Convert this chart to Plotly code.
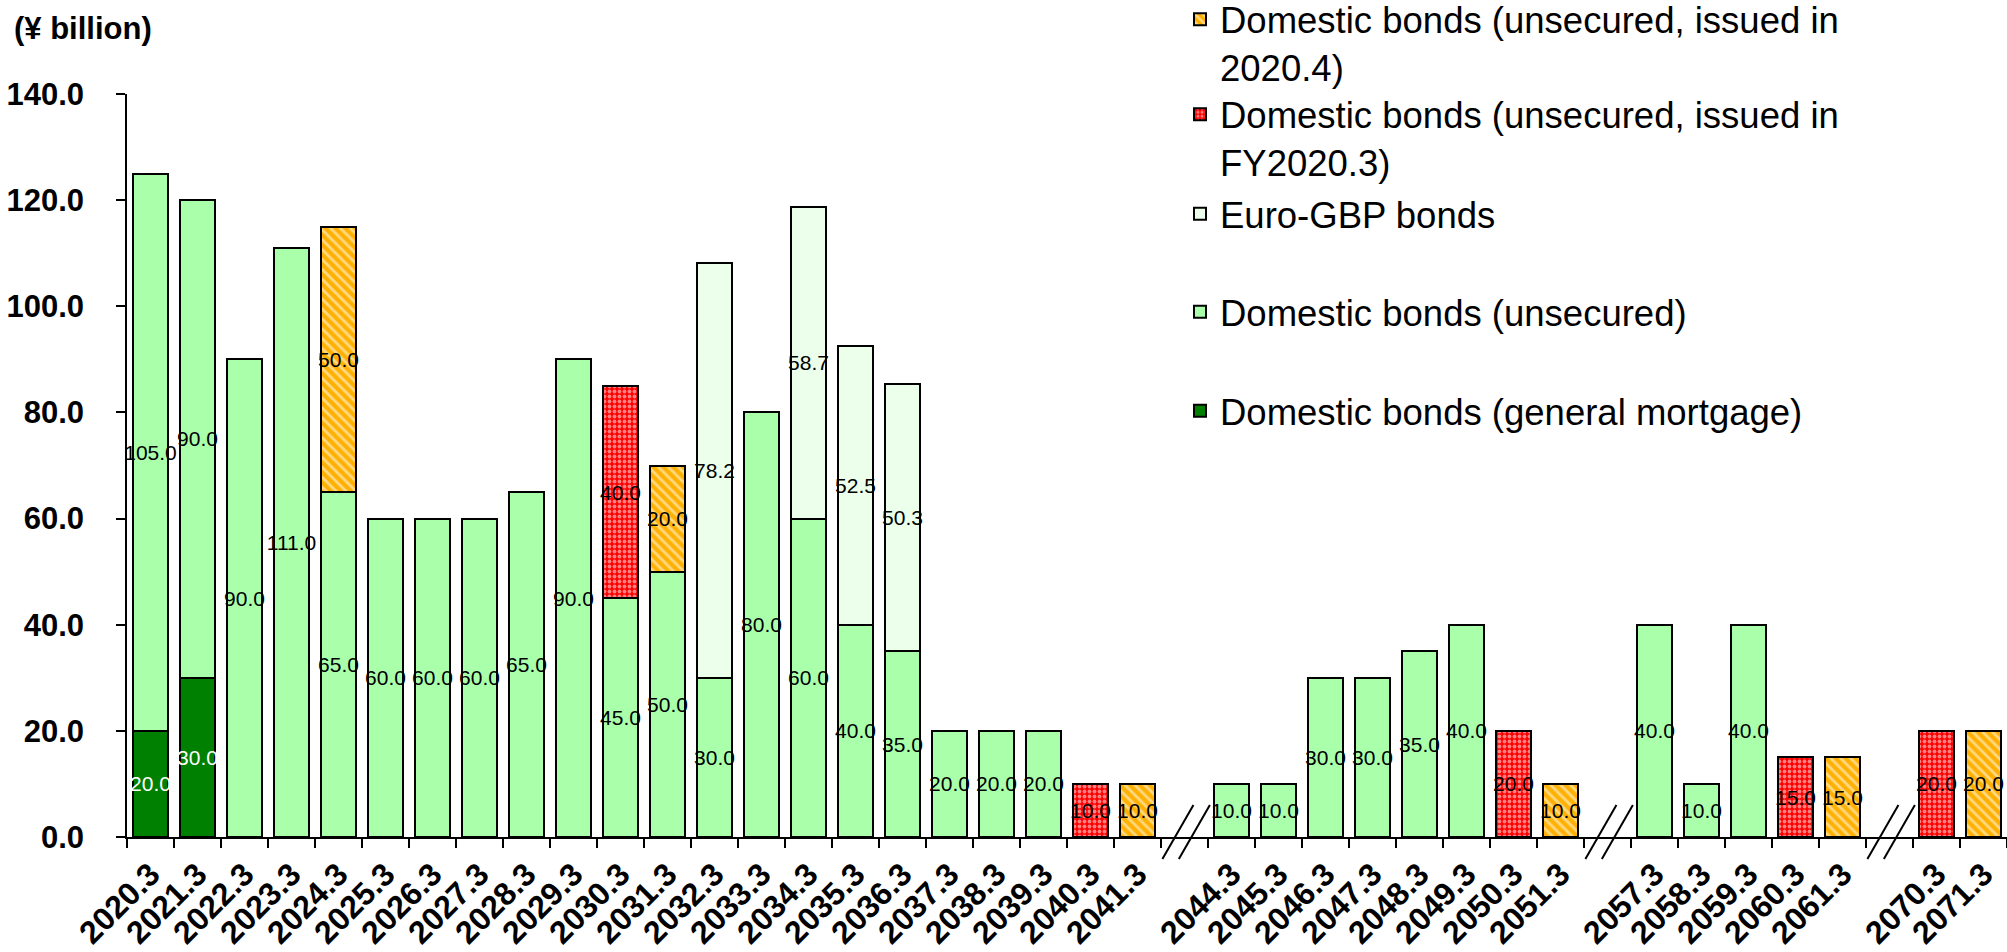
import plotly.graph_objects as go

# Redemption schedule by fiscal year (¥ billion); blank strings are axis breaks
categories = ["2020.3", "2021.3", "2022.3", "2023.3", "2024.3", "2025.3", "2026.3",
              "2027.3", "2028.3", "2029.3", "2030.3", "2031.3", "2032.3", "2033.3",
              "2034.3", "2035.3", "2036.3", "2037.3", "2038.3", "2039.3", "2040.3",
              "2041.3", " ", "2044.3", "2045.3", "2046.3", "2047.3", "2048.3",
              "2049.3", "2050.3", "2051.3", "  ", "2057.3", "2058.3", "2059.3",
              "2060.3", "2061.3", "   ", "2070.3", "2071.3"]

mortgage = {"2020.3": 20.0, "2021.3": 30.0}
unsecured = {"2020.3": 105.0, "2021.3": 90.0, "2022.3": 90.0, "2023.3": 111.0,
             "2024.3": 65.0, "2025.3": 60.0, "2026.3": 60.0, "2027.3": 60.0,
             "2028.3": 65.0, "2029.3": 90.0, "2030.3": 45.0, "2031.3": 50.0,
             "2032.3": 30.0, "2033.3": 80.0, "2034.3": 60.0, "2035.3": 40.0,
             "2036.3": 35.0, "2037.3": 20.0, "2038.3": 20.0, "2039.3": 20.0,
             "2044.3": 10.0, "2045.3": 10.0, "2046.3": 30.0, "2047.3": 30.0,
             "2048.3": 35.0, "2049.3": 40.0, "2057.3": 40.0, "2058.3": 10.0,
             "2059.3": 40.0}
euro_gbp = {"2032.3": 78.2, "2034.3": 58.7, "2035.3": 52.5, "2036.3": 50.3}
issued_fy2020_3 = {"2030.3": 40.0, "2040.3": 10.0, "2050.3": 20.0, "2060.3": 15.0,
                   "2070.3": 20.0}
issued_2020_4 = {"2024.3": 50.0, "2031.3": 20.0, "2041.3": 10.0, "2051.3": 10.0,
                 "2061.3": 15.0, "2071.3": 20.0}

break_slots = [" ", "  ", "   "]
y_ticks = [0, 20, 40, 60, 80, 100, 120, 140]

FONT = "Liberation Sans, Arial, sans-serif"
W, H = 2007, 952
M_L, M_R, M_T, M_B = 127, 0, 94, 115
PW, PH = W - M_L - M_R, H - M_T - M_B


def series(d):
    return [d.get(c) for c in categories]


def px_to_paper_y(py):
    return (H - M_B - py) / PH


def px_to_paper_x(px):
    return (px - M_L) / PW


fig = go.Figure()

traces = [
    ("Domestic bonds (general mortgage)", mortgage, dict(color="#008000"), "white", "legend"),
    ("Domestic bonds (unsecured)", unsecured, dict(color="#AAFFAA"), "black", "legend2"),
    ("Euro-GBP bonds", euro_gbp, dict(color="#EBFFEB"), "black", "legend3"),
    ("Domestic bonds (unsecured, issued in<br>FY2020.3)", issued_fy2020_3,
     dict(color="#FF0000",
          pattern=dict(shape=".", fgcolor="white", bgcolor="#FF0000", size=5, solidity=0.45)),
     "black", "legend4"),
    ("Domestic bonds (unsecured, issued in<br>2020.4)", issued_2020_4,
     dict(color="#FFB000",
          pattern=dict(shape="\\", fgcolor="white", bgcolor="#FFB000", size=7, solidity=0.42)),
     "black", "legend5"),
]

for name, data, marker, txtcolor, legend_id in traces:
    fig.add_trace(go.Bar(
        x=categories, y=series(data), name=name,
        marker=dict(**marker, line=dict(color="black", width=2)),
        texttemplate="%{y:.1f}", textposition="inside", insidetextanchor="middle",
        textangle=0, constraintext="none",
        textfont=dict(family=FONT, size=21, color=txtcolor),
        legend=legend_id, showlegend=True, hoverinfo="x+y+name",
    ))

# Individual legend boxes, one per series, stacked on the right
legend_rows = {"legend5": 43, "legend4": 138, "legend3": 214, "legend2": 312, "legend": 411}
legend_cfg = {}
for lid, cy in legend_rows.items():
    legend_cfg[lid] = dict(
        x=px_to_paper_x(1180), y=px_to_paper_y(cy), xanchor="left", yanchor="middle",
        font=dict(family=FONT, size=36.5, color="black"), bgcolor="rgba(0,0,0,0)",
        valign="top", borderwidth=0, itemclick=False, itemdoubleclick=False,
    )

# Axis-break marks ("//") drawn across the x axis in each empty slot
shapes = []
n = len(categories)
for slot in break_slots:
    i = categories.index(slot)
    for dx in (-0.47, -0.12):
        x0 = (i + 0.5 + dx) / n
        x1 = (i + 0.5 + dx + 0.66) / n
        shapes.append(dict(type="line", xref="paper", yref="paper",
                           x0=x0, y0=px_to_paper_y(859), x1=x1, y1=px_to_paper_y(805),
                           line=dict(color="black", width=2)))

fig.update_layout(
    width=W, height=H, barmode="stack", bargap=0.26, showlegend=True,
    margin=dict(l=M_L, r=M_R, t=M_T, b=M_B, autoexpand=False),
    paper_bgcolor="white", plot_bgcolor="white",
    font=dict(family=FONT, color="black"),
    shapes=shapes,
    annotations=[dict(text="<b>(¥ billion)</b>", xref="paper", yref="paper",
                      x=px_to_paper_x(12), y=px_to_paper_y(29), xanchor="left",
                      yanchor="middle", showarrow=False,
                      font=dict(family=FONT, size=31, color="black"))],
    **legend_cfg,
)

fig.update_xaxes(
    type="category", categoryorder="array", categoryarray=categories,
    range=[-0.5, n - 0.5], tickson="boundaries", ticks="outside", ticklen=9,
    tickwidth=1.5, tickcolor="black", showline=True, linecolor="black", linewidth=1.5,
    tickangle=-45, tickfont=dict(family=FONT, size=32, color="black", weight="bold"),
    ticklabelstandoff=4,
    showgrid=False, zeroline=False, automargin=False,
)
fig.update_yaxes(
    range=[0, 140], tickmode="array", tickvals=y_ticks, tickformat=".1f",
    ticks="outside", ticklen=9, tickwidth=1.5, tickcolor="black",
    showline=True, linecolor="black", linewidth=1.5, showgrid=False, zeroline=False,
    tickfont=dict(family=FONT, size=31, color="black", weight="bold"),
    ticklabelstandoff=26, automargin=False,
)

fig.write_html("out.html")
